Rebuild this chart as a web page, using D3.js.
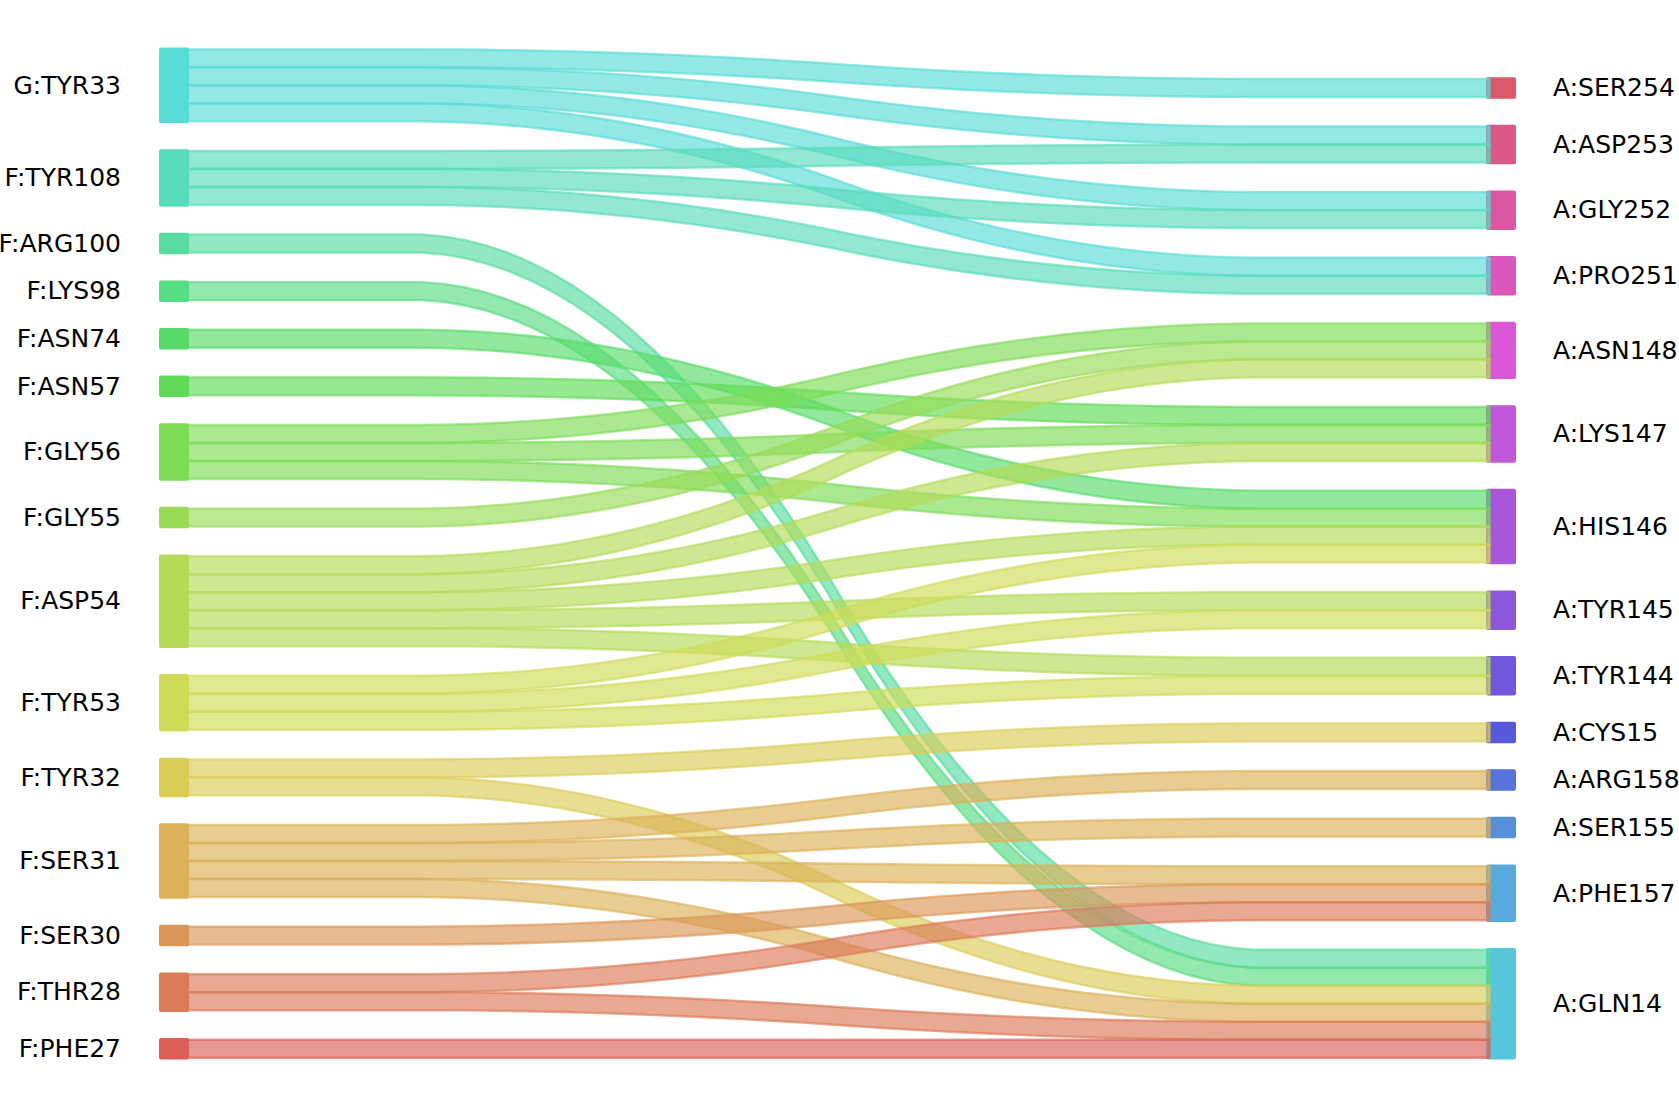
<!DOCTYPE html>
<html>
<head>
<meta charset="utf-8">
<script src="https://cdn.jsdelivr.net/npm/d3@7"></script>
<style>
  html, body { margin: 0; padding: 0; background: #ffffff; }
  svg { display: block; }
  text { font-family: "DejaVu Sans", sans-serif; font-size: 25px; fill: #000; }
</style>
</head>
<body>
<svg id="chart" width="1679" height="1108"></svg>
<script>
// ---- Data ----
const leftNodes = ["G:TYR33","F:TYR108","F:ARG100","F:LYS98","F:ASN74","F:ASN57","F:GLY56","F:GLY55",
                   "F:ASP54","F:TYR53","F:TYR32","F:SER31","F:SER30","F:THR28","F:PHE27"];
const rightNodes = ["A:SER254","A:ASP253","A:GLY252","A:PRO251","A:ASN148","A:LYS147","A:HIS146",
                    "A:TYR145","A:TYR144","A:CYS15","A:ARG158","A:SER155","A:PHE157","A:GLN14"];
const linkSource = ["G:TYR33","G:TYR33","G:TYR33","G:TYR33",
                    "F:TYR108","F:TYR108","F:TYR108",
                    "F:ARG100","F:LYS98","F:ASN74","F:ASN57",
                    "F:GLY56","F:GLY56","F:GLY56",
                    "F:GLY55",
                    "F:ASP54","F:ASP54","F:ASP54","F:ASP54","F:ASP54",
                    "F:TYR53","F:TYR53","F:TYR53",
                    "F:TYR32","F:TYR32",
                    "F:SER31","F:SER31","F:SER31","F:SER31",
                    "F:SER30",
                    "F:THR28","F:THR28",
                    "F:PHE27"];
const linkTarget = ["A:SER254","A:ASP253","A:GLY252","A:PRO251",
                    "A:ASP253","A:GLY252","A:PRO251",
                    "A:GLN14","A:GLN14","A:HIS146","A:LYS147",
                    "A:ASN148","A:LYS147","A:HIS146",
                    "A:ASN148",
                    "A:ASN148","A:LYS147","A:HIS146","A:TYR145","A:TYR144",
                    "A:HIS146","A:TYR145","A:TYR144",
                    "A:CYS15","A:GLN14",
                    "A:ARG158","A:SER155","A:PHE157","A:GLN14",
                    "A:PHE157",
                    "A:PHE157","A:GLN14",
                    "A:GLN14"];
const linkValue = [1,1,1,1, 1,1,1, 1,1,1,1, 1,1,1, 1, 1,1,1,1,1, 1,1,1, 1,1, 1,1,1,1, 1, 1,1, 1];

// ---- Colours: circular HLS palette over all nodes (left bottom->top, then right bottom->top)
const paletteOrder = leftNodes.slice().reverse().concat(rightNodes.slice().reverse());
const nColors = paletteOrder.length;
const color = d3.scaleOrdinal()
  .domain(paletteOrder)
  .range(paletteOrder.map((d, i) => d3.hsl(((0.01 + i / nColors) % 1) * 360, 0.65, 0.6).formatHex()));

// ---- Layout (units of one link width) ----
const gapUnits = 1.645;
const links = linkSource.map((s, i) => ({source: s, target: linkTarget[i], value: linkValue[i]}));

function totalFor(name, side) {
  return d3.sum(links.filter(l => (side === "L" ? l.source : l.target) === name), l => l.value);
}
const leftTotals = leftNodes.map(n => totalFor(n, "L"));
const rightTotals = rightNodes.map(n => totalFor(n, "R"));
const leftSpan = d3.sum(leftTotals) + gapUnits * (leftNodes.length - 1);
const rightSpan = d3.sum(rightTotals) + gapUnits * (rightNodes.length - 1);
const spanMax = Math.max(leftSpan, rightSpan);

function placeNodes(names, totals, span) {
  let pos = spanMax - span;
  const out = {};
  names.forEach((n, i) => {
    out[n] = {name: n, y0: pos, y1: pos + totals[i], idx: i};
    pos += totals[i] + gapUnits;
  });
  return out;
}
const L = placeNodes(leftNodes, leftTotals, leftSpan);
const R = placeNodes(rightNodes, rightTotals, rightSpan);

// slots inside nodes: sort by other end's position
leftNodes.forEach(n => {
  let p = L[n].y0;
  links.filter(l => l.source === n)
       .sort((a, b) => R[a.target].idx - R[b.target].idx)
       .forEach(l => { l.ly0 = p; l.ly1 = p + l.value; p += l.value; });
});
rightNodes.forEach(n => {
  let p = R[n].y0;
  links.filter(l => l.target === n)
       .sort((a, b) => L[a.source].idx - L[b.source].idx)
       .forEach(l => { l.ry0 = p; l.ry1 = p + l.value; p += l.value; });
});

// ---- Scales ----
const y = d3.scaleLinear().domain([0, spanMax]).range([49.35, 1057.8]);
const x = d3.scaleLinear().domain([0, 1]).range([186.5, 1489.5]);
const leftNodeX = [159, 189], rightNodeX = [1486, 1516];

const svg = d3.select("#chart");

// nodes
svg.append("g").selectAll("rect").data(leftNodes.map(n => L[n])).join("rect")
  .attr("x", leftNodeX[0]).attr("width", leftNodeX[1] - leftNodeX[0])
  .attr("y", d => y(d.y0) - 1.75).attr("height", d => y(d.y1) - y(d.y0) + 3.5)
  .attr("rx", 2).attr("fill", d => color(d.name));
svg.append("g").selectAll("rect").data(rightNodes.map(n => R[n])).join("rect")
  .attr("x", rightNodeX[0]).attr("width", rightNodeX[1] - rightNodeX[0])
  .attr("y", d => y(d.y0) - 1.75).attr("height", d => y(d.y1) - y(d.y0) + 3.5)
  .attr("rx", 2).attr("fill", d => color(d.name));

// smoothing (step, convolved twice with a 20-wide box)
function smooth(a, b) {
  let arr = d3.range(100).map(i => i < 50 ? a : b);
  for (let k = 0; k < 2; k++) {
    const out = [];
    for (let i = 0; i + 20 <= arr.length; i++) out.push(d3.mean(arr.slice(i, i + 20)));
    arr = out;
  }
  return arr;
}
const area = d3.area().x(d => x(d.t)).y0(d => y(d.a)).y1(d => y(d.b)).curve(d3.curveLinear);

svg.append("g").selectAll("path").data(links).join("path")
  .attr("d", l => {
    const top = smooth(l.ly0, l.ry0), bot = smooth(l.ly1, l.ry1);
    const pts = top.map((v, i) => ({t: i / (top.length - 1), a: v, b: bot[i]}));
    return area(pts);
  })
  .attr("fill", l => color(l.source)).attr("fill-opacity", 0.65)
  .attr("stroke", l => color(l.source)).attr("stroke-opacity", 0.65).attr("stroke-width", 2.4);

// labels
svg.append("g").selectAll("text").data(leftNodes.map(n => L[n])).join("text")
  .attr("x", 121).attr("y", d => y((d.y0 + d.y1) / 2)).attr("dy", 8.3)
  .attr("text-anchor", "end").text(d => d.name);
svg.append("g").selectAll("text").data(rightNodes.map(n => R[n])).join("text")
  .attr("x", 1553).attr("y", d => y((d.y0 + d.y1) / 2)).attr("dy", 8.3)
  .attr("text-anchor", "start").text(d => d.name);
</script>
</body>
</html>
